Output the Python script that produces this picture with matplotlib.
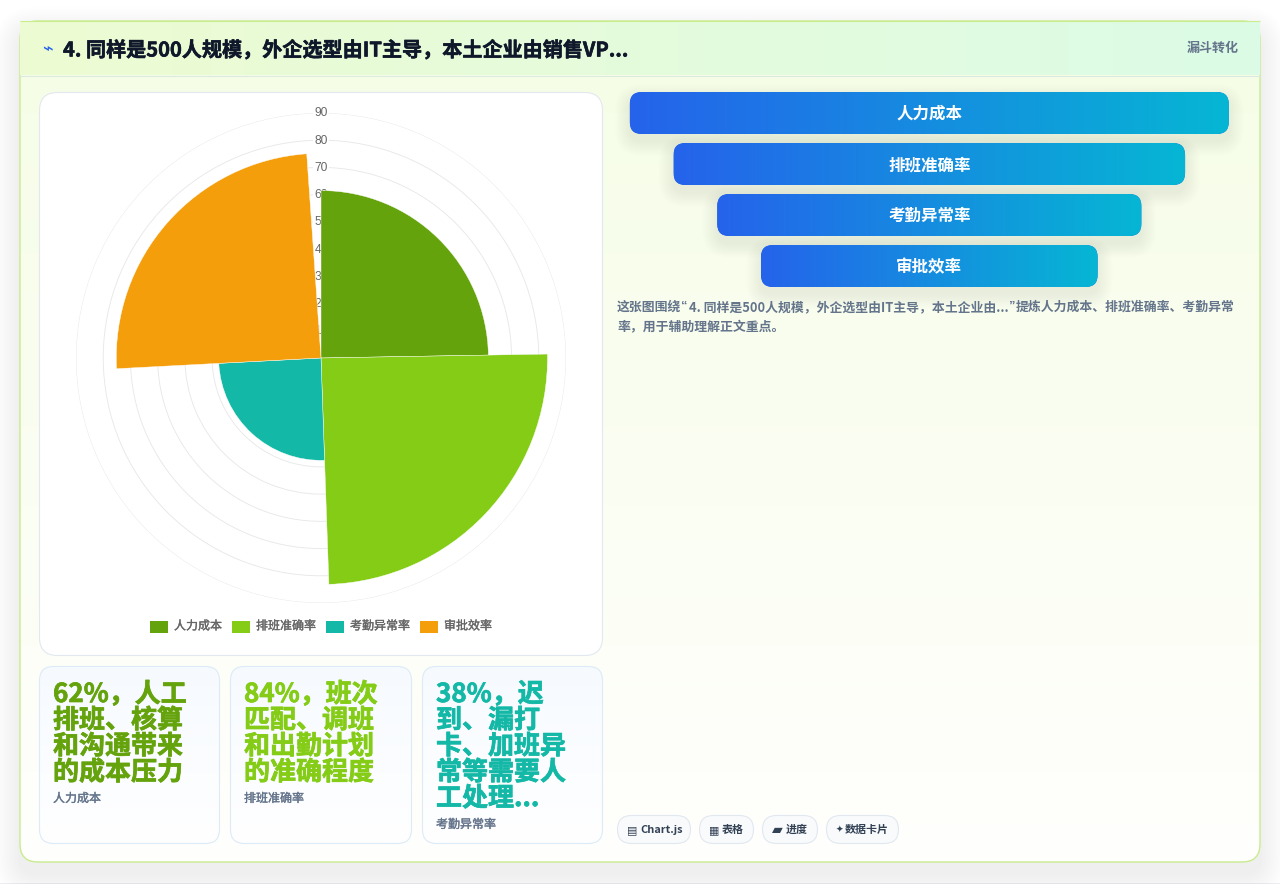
import numpy as np
import matplotlib
matplotlib.use('Agg')
import matplotlib.pyplot as plt
import matplotlib.patheffects as pe
from matplotlib.patches import FancyBboxPatch, Rectangle
from matplotlib.colors import LinearSegmentedColormap

plt.rcParams['font.family'] = ['Noto Sans CJK SC', 'DejaVu Sans']

##############################################################
# The chart's values and texts.
##############################################################
categories = ['人力成本', '排班准确率', '考勤异常率', '审批效率']
values = [61.5, 83.2, 37.6, 75.2]
colors = ['#65a30d', '#84cc16', '#14b8a6', '#f59e0b']
sector_start_deg = [0, 89, 178, 267]
sector_span_deg = [89, 89, 89, 89]
r_ticks = [10, 20, 30, 40, 50, 60, 70, 80, 90]
funnel_pct = [100, 85.4, 70.8, 56.2]

title = '4. 同样是500人规模，外企选型由IT主导，本土企业由销售VP...'
badge = '漏斗转化'
# Pieces of the paragraph's first line: the quotes come from a Latin font in the reference.
paragraph_first = ['这张图围绕', '“', '4. 同样是500人规模，外企选型由IT主导，本土企业由...', '”', '提炼人力成本、排班准确率、考勤异常']
paragraph_second = '率，用于辅助理解正文重点。'
card_lines = [['62%，人工', '排班、核算', '和沟通带来', '的成本压力'],
              ['84%，班次', '匹配、调班', '和出勤计划', '的准确程度'],
              ['38%，迟', '到、漏打', '卡、加班异', '常等需要人', '工处理...']]
card_labels = ['人力成本', '排班准确率', '考勤异常率']
chip_icons = ['▤', '▦', '▰', '✦']
chip_labels = ['Chart.js', '表格', '进度', '数据卡片']

##############################################################
# Helpers, all in pixel coordinates.
##############################################################
fig = plt.figure(figsize=(12.8, 8.84), dpi=100, facecolor='white')
ax = fig.add_axes([0, 0, 1, 1])
ax.set_xlim(0, 1280)
ax.set_ylim(884, 0)
ax.axis('off')

def px(size):
  return size*0.72

def fat(color, width):
  # The reference text has a synthetic bold, so thicken the outline a bit.
  return [pe.withStroke(linewidth=width, foreground=color)]

def rounded(x0, y0, x1, y1, r, **kwargs):
  patch = FancyBboxPatch((x0 + r, y0 + r), x1 - x0 - 2*r, y1 - y0 - 2*r,
                         boxstyle='round,pad=%f,rounding_size=%f' % (r, r),
                         mutation_aspect=1, **kwargs)
  ax.add_patch(patch)
  return patch

def gradient(x0, y0, x1, y1, c0, c1, horizontal, clip=None, zorder=1):
  cmap = LinearSegmentedColormap.from_list('g', [c0, c1])
  ramp = np.linspace(0, 1, 256)
  ramp = ramp.reshape(1, -1) if horizontal else ramp.reshape(-1, 1)
  im = ax.imshow(ramp, cmap=cmap, extent=(x0, x1, y1, y0), aspect='auto', zorder=zorder,
                 interpolation='bilinear')
  if clip is not None:
    im.set_clip_path(clip)
  ax.set_xlim(0, 1280)
  ax.set_ylim(884, 0)
  return im

def shadow(x0, y0, x1, y1, r, blur, offset, alpha, zorder):
  # Stack of growing translucent boxes to fake a CSS box-shadow.
  steps = 16
  for i in range(steps):
    s = blur*(1 - i/steps)
    rounded(x0 - s, y0 - s + offset, x1 + s, y1 + s + offset, r + s,
            facecolor='#0f172a', edgecolor='none', alpha=alpha/steps, zorder=zorder)

##############################################################
# Page, outer card and header.
##############################################################
ax.add_patch(Rectangle((0, 882.5), 1280, 1.5, facecolor='#eceef1', edgecolor='none', zorder=0.1))
shadow(20, 21, 1260, 862, 18, 26, 12, 0.075, 0.2)
card = rounded(20, 21, 1260, 862, 18, facecolor='white', edgecolor='none', zorder=0.5)
gradient(20, 75, 1260, 862, '#f6fde7', '#fffffd', False, clip=card, zorder=0.6)
rounded(20, 21, 1260, 862, 18, facecolor='none', edgecolor='#c9ec8e', linewidth=1.0, zorder=0.8)
header_clip = Rectangle((20, 21), 1240, 54, transform=ax.transData)
gradient(20, 21, 1260, 75, '#edfbd2', '#dcfbe6', True, clip=header_clip, zorder=0.9)
ax.plot([20, 1260], [21, 21], color='#c9ec8e', lw=0.8, zorder=1, solid_capstyle='butt')
ax.plot([20, 1260], [75.5, 75.5], color='#dbeadf', lw=0.8, zorder=1)

ax.text(47, 50, '⌁', color='#2563eb', fontsize=px(18), ha='center', va='center', family='DejaVu Sans', zorder=5)
ax.text(63, 50, title, color='#0f172a', fontsize=px(20.1), fontweight='bold', ha='left', va='center', zorder=5,
        path_effects=fat('#0f172a', 0.4))
ax.text(1239, 48, badge, color='#64748b', fontsize=px(13), fontweight='bold', ha='right', va='center', zorder=5)

##############################################################
# Polar area panel.
##############################################################
rounded(39.5, 92.5, 602.5, 655.5, 18, facecolor='white', edgecolor='#e2e8f0', linewidth=0.8, zorder=1)

center_x, center_y, radius_px = 321, 358, 245
polar = fig.add_axes([(center_x - radius_px)/1280, 1 - (center_y + radius_px)/884,
                      2*radius_px/1280, 2*radius_px/884], projection='polar', facecolor='none')
polar.set_theta_zero_location('N')
polar.set_theta_direction(-1)
polar.set_ylim(0, 90)
polar.set_rticks(r_ticks)
polar.set_yticklabels([])
polar.set_xticks([])
polar.grid(True, axis='y', color='#e8e8e8', linewidth=0.65)
polar.set_axisbelow(True)
polar.spines['polar'].set_visible(False)
polar.bar(np.radians(sector_start_deg), values, width=np.radians(sector_span_deg), align='edge',
          color=colors, edgecolor='white', linewidth=0.3, zorder=3)
for r in r_ticks:
  polar.text(0, r - 0.15, str(r), color='#666666', fontsize=px(12), family='Liberation Sans', ha='center', va='center',
             zorder=2, bbox=dict(facecolor='white', edgecolor='none', pad=1.0))

# Legend
legend_swatch_x = [150, 232, 326, 420]
for (name, color, sx) in zip(categories, colors, legend_swatch_x):
  ax.add_patch(Rectangle((sx, 621), 18, 12, facecolor=color, edgecolor='none', zorder=3))
  ax.text(sx + 24, 626, name, color='#666666', fontsize=px(12), ha='left', va='center', zorder=3,
          path_effects=fat('#666666', 0.25))

##############################################################
# Stat cards.
##############################################################
card_edges = [(39, 220), (230, 412), (422, 603)]
for (edges, lines, label, color) in zip(card_edges, card_lines, card_labels, colors):
  (x0, x1) = edges
  box = rounded(x0 + 0.5, 666.5, x1 - 0.5, 843.5, 14, facecolor='white', edgecolor='none', zorder=1)
  gradient(x0, 666, x1, 844, '#f6faff', '#ffffff', False, clip=box, zorder=1.1)
  rounded(x0 + 0.5, 666.5, x1 - 0.5, 843.5, 14, facecolor='none', edgecolor='#dcebf7', linewidth=0.8, zorder=1.2)
  for (i, line) in enumerate(lines):
    ax.text(x0 + 14, 694.5 + 26*i, line, color=color, fontsize=px(26), fontweight='bold', ha='left', va='center', zorder=3,
            path_effects=fat(color, 0.5))
  ax.text(x0 + 14, 693.5 + 26*(len(lines) - 1) + 27, label, color='#64748b', fontsize=px(12), ha='left', va='center', zorder=3,
          path_effects=fat('#64748b', 0.25))

##############################################################
# Funnel.
##############################################################
funnel_center = 929.3
funnel_full_px = 599
for (i, (name, pct)) in enumerate(zip(categories, funnel_pct)):
  half = funnel_full_px*pct/100/2
  top = 92 + 51*i
  shadow(funnel_center - half, top, funnel_center + half, top + 42, 12, 15, 7, 0.04, 1.5)
  box = rounded(funnel_center - half, top, funnel_center + half, top + 42, 12, facecolor='#2563eb', edgecolor='none', zorder=2)
  gradient(funnel_center - half, top, funnel_center + half, top + 42, '#2563eb', '#06b6d4', True, clip=box, zorder=2.1)
  ax.text(funnel_center, top + 22, name, color='white', fontsize=px(16.5), fontweight='bold', ha='center', va='center', zorder=3)

# First paragraph line is laid out piece by piece, measuring each piece.
renderer = fig.canvas.get_renderer()
cursor = 617
for piece in paragraph_first:
  is_quote = piece in ('“', '”')
  t = ax.text(cursor, 307, piece, color='#64748b', fontsize=px(12.87), fontweight='bold', ha='left', va='center', zorder=3,
              family='Liberation Sans' if is_quote else None)
  cursor = t.get_window_extent(renderer).x1 + (1 if is_quote else 0)
ax.text(617, 327, paragraph_second, color='#64748b', fontsize=px(12.87), fontweight='bold', ha='left', va='center', zorder=3)

##############################################################
# Chips.
##############################################################
chip_edges = [(617, 691), (699, 754), (762, 818), (826, 899)]
chip_icon_dx = [15, 15.5, 15.5, 13.5]
chip_icon_px = [11, 11, 14, 9]
chip_text_dx = [23, 23, 24, 19]
for (edges, icon, label, idx, ipx, tdx) in zip(chip_edges, chip_icons, chip_labels, chip_icon_dx, chip_icon_px, chip_text_dx):
  (x0, x1) = edges
  rounded(x0 + 0.5, 815.5, x1 - 0.5, 843.5, 14, facecolor='#f8fafc', edgecolor='#e2e8f0', linewidth=0.8, zorder=2)
  ax.text(x0 + idx, 830, icon, color='#334155', fontsize=px(ipx), family='DejaVu Sans', ha='center', va='center', zorder=3)
  ax.text(x0 + tdx, 830, label, color='#334155', fontsize=px(11), fontweight='bold', ha='left', va='center', zorder=3)

fig.savefig('out.png', dpi=100, facecolor='white')
